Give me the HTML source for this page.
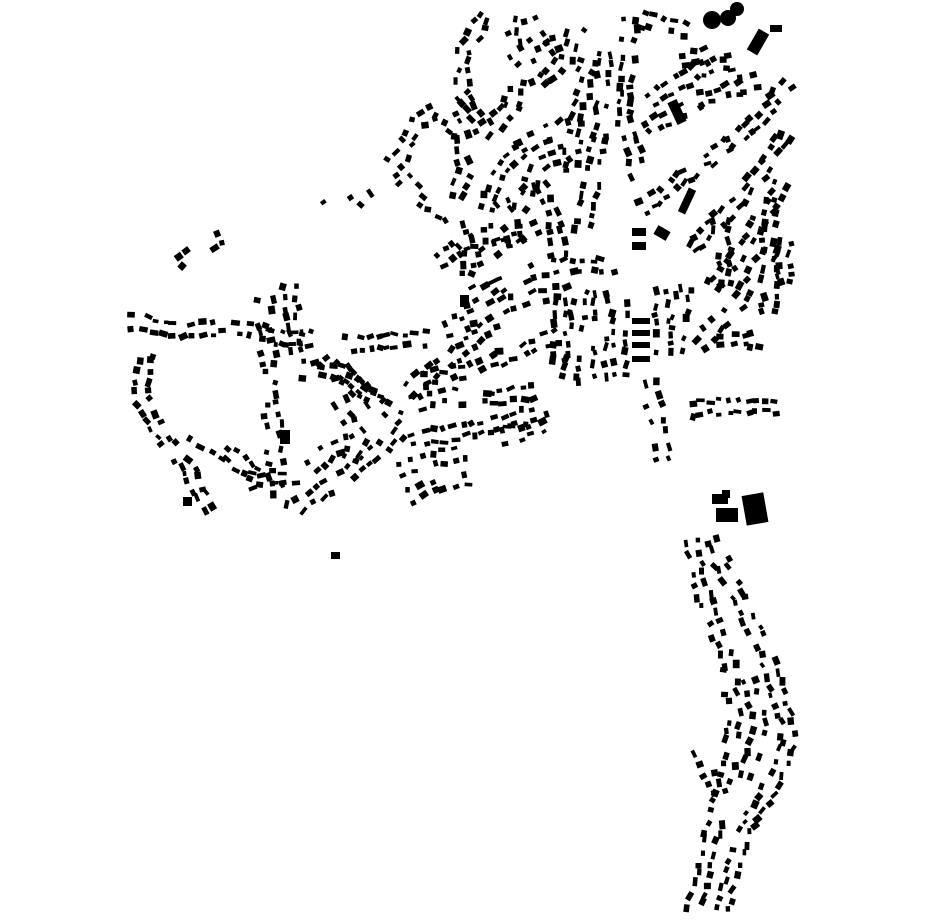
<!DOCTYPE html>
<html><head><meta charset="utf-8"><style>
html,body{margin:0;padding:0;background:#fff;width:930px;height:924px;overflow:hidden}
svg{display:block}
</style></head><body>
<svg id="s" width="930" height="924" viewBox="0 0 930 924" xmlns="http://www.w3.org/2000/svg">
<g fill="#000">
<circle cx="712" cy="20" r="9"/><circle cx="728" cy="18" r="8"/><circle cx="737" cy="9" r="7"/>
<rect x="752" y="30" width="12" height="24" transform="rotate(30 758 42)"/>
<rect x="770" y="25" width="12" height="7"/>
<rect x="672" y="100" width="10" height="24" transform="rotate(-25 677 112)"/>
<rect x="744" y="494" width="22" height="30" transform="rotate(-10 755 509)"/>
<rect x="716" y="508" width="22" height="14"/>
<rect x="712" y="494" width="16" height="10"/>
<rect x="722" y="490" width="8" height="8"/>
<rect x="632" y="228" width="14" height="8"/><rect x="632" y="242" width="14" height="8"/>
<rect x="632" y="318" width="18" height="6"/><rect x="632" y="330" width="18" height="6"/><rect x="632" y="342" width="18" height="6"/><rect x="632" y="356" width="18" height="6"/>
<rect x="683" y="188" width="8" height="26" transform="rotate(25 687 201)"/>
<rect x="655" y="228" width="14" height="10" transform="rotate(30 662 233)"/>
<rect x="331" y="552" width="9" height="7"/>
<rect x="183" y="497" width="9" height="9"/>
<rect x="280" y="430" width="10" height="14"/>
<rect x="460" y="295" width="9" height="12"/>
</g>
<g id="g" fill="#000"></g>
</svg>
<script>
var seed=12345;function r(){seed=(seed*16807)%2147483647;return seed/2147483647;}
var L=[
[[395,165],[420,120],[440,110],[460,130],[465,170],[455,200]],
[[400,170],[420,200],[450,215],[470,250],[465,285]],
[[485,15],[465,50],[460,90],[485,130],[510,110],[520,75]],
[[510,20],[515,50],[540,80],[565,60],[580,20]],
[[530,20],[545,50],[565,40]],
[[485,210],[500,170],[530,140],[565,125]],
[[520,210],[540,165],[570,150]],
[[475,260],[520,235],[545,225]],
[[460,300],[500,285],[540,270],[580,265],[620,265]],
[[445,330],[490,310],[540,295],[575,290]],
[[410,390],[460,350],[500,320]],
[[420,380],[470,370],[520,350],[560,335]],
[[605,50],[600,130],[590,190],[580,240]],
[[630,20],[625,120],[640,180]],
[[640,20],[690,30]],
[[650,100],[700,70],[740,60]],
[[645,130],[700,100],[760,80]],
[[640,210],[700,165],[760,120],[790,80]],
[[690,250],[740,200],[790,130]],
[[710,290],[750,240],[785,180]],
[[700,345],[740,300],[770,250]],
[[720,340],[770,340]],
[[690,408],[780,405]],
[[580,290],[570,390]],
[[600,290],[600,380]],
[[620,300],[620,380]],
[[660,290],[665,360]],
[[685,285],[675,355]],
[[650,380],[660,440],[665,465]],
[[410,405],[450,395],[490,398],[540,390]],
[[410,495],[440,485],[475,478]],
[[400,470],[430,460],[470,452]],
[[410,440],[470,430],[510,420],[550,410]],
[[490,440],[550,425]],
[[560,300],[560,370]],
[[770,200],[770,320]],
[[785,240],[785,290]],
[[720,220],[725,290]],
[[130,320],[180,330],[230,325],[270,335],[320,340]],
[[340,343],[430,340]],
[[145,350],[140,400],[165,440],[190,470],[210,512]],
[[190,435],[230,455],[260,480]],
[[265,300],[270,380],[275,450],[280,512]],
[[290,285],[295,360]],
[[300,370],[340,370],[390,410]],
[[320,360],[360,390],[400,420]],
[[300,505],[340,480],[380,450],[410,420]],
[[250,480],[300,475]],
[[180,262],[210,245],[232,232]],
[[318,196],[330,190]],[[355,192],[372,206]],
[[340,400],[360,440],[345,470]],
[[310,470],[330,450],[355,440]],
[[690,540],[705,600],[725,650],[735,700],[730,760],[715,820],[705,870],[690,915]],
[[710,540],[740,600],[765,650],[780,700],[790,740],[770,790],[745,830],[730,880],[720,915]],
[[700,750],[720,800]],
[[750,680],[760,730],[745,780]],
[[590,60],[575,120],[570,180]],
[[680,60],[720,50]],
[[540,180],[555,220],[560,260]],
[[500,200],[520,250]],
[[440,260],[470,240],[500,230]]
];
var g=document.getElementById('g'),h='';
L.forEach(function(p){
 for(var i=0;i<p.length-1;i++){
  var a=p[i],b=p[i+1],dx=b[0]-a[0],dy=b[1]-a[1],len=Math.hypot(dx,dy),ang=Math.atan2(dy,dx)*180/Math.PI;
  var nx=-dy/len,ny=dx/len,n=Math.max(1,Math.floor(len/9));
  for(var k=0;k<n;k++){
   var t=(k+r()*0.6)/n;
   for(var s=-1;s<=1;s+=2){
    if(r()<0.15)continue;
    var off=s*(4+r()*4);
    var x=a[0]+dx*t+nx*off+(r()-0.5)*3,y=a[1]+dy*t+ny*off+(r()-0.5)*3;
    var w=4.5+r()*4.5,hh=3.5+r()*3.5;
    h+='<rect x="'+(x-w/2).toFixed(1)+'" y="'+(y-hh/2).toFixed(1)+'" width="'+w.toFixed(1)+'" height="'+hh.toFixed(1)+'" transform="rotate('+(ang+(r()-0.5)*40).toFixed(0)+' '+x.toFixed(1)+' '+y.toFixed(1)+')"/>';
   }
  }
 }
});
g.innerHTML=h;
</script>
</body></html>
